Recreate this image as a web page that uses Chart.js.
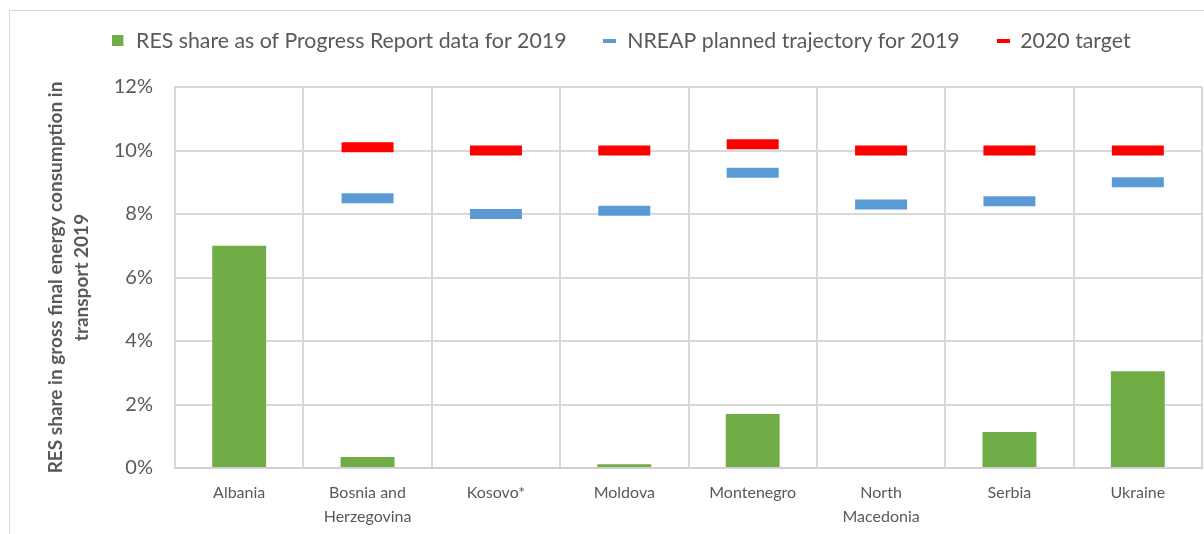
<!DOCTYPE html>
<html>
<head>
<meta charset="utf-8">
<script src="https://cdn.jsdelivr.net/npm/chart.js@4.4.1/dist/chart.umd.min.js"></script>
<style>
  html, body { margin: 0; padding: 0; background: #fff; overflow: hidden; }
  body { width: 1204px; height: 534px; position: relative; }
  .frame { position: absolute; left: 9px; top: 10px; width: 1210px; height: 540px; border: 1px solid #d9d9d9; }
  .wrap { position: absolute; left: 0; top: -7px; width: 1204px; height: 541px; }
</style>
</head>
<body>
<div class="frame"></div>
<div class="wrap"><canvas id="grafica" width="1204" height="541"></canvas></div>
<script>
// datos (en %)
const paises = ['Albania', ['Bosnia and', 'Herzegovina'], 'Kosovo*', 'Moldova', 'Montenegro', ['North', 'Macedonia'], 'Serbia', 'Ukraine'];
const progressReport2019 = [7.0, 0.35, 0, 0.12, 1.7, 0, 1.13, 3.05];
const nreap2019 = [null, 8.5, 8.0, 8.1, 9.3, 8.3, 8.4, 9.0];
const target2020 = [null, 10.1, 10.0, 10.0, 10.2, 10.0, 10.0, 10.0];
const ticksY = [0, 2, 4, 6, 8, 10, 12];

const verde = '#70AD47';
const azul = '#5B9BD5';
const rojo = '#FF0000';
const gris = '#595959';
const rejilla = '#d9d9d9';

Chart.defaults.font.family = 'Lato';
Chart.defaults.color = gris;

// cuadritos para la leyenda
const iconoLeyenda = (color, w, h, cw, ch) => {
  const c = document.createElement('canvas');
  c.width = cw; c.height = ch;
  const ctx = c.getContext('2d');
  ctx.fillStyle = color;
  ctx.fillRect(0, (ch - h) / 2, w, h);
  return c;
};
const iconos = [
  iconoLeyenda(verde, 11, 11, 13, 11),
  iconoLeyenda(azul, 13, 4, 13, 4),
  iconoLeyenda(rojo, 13, 4, 13, 4)
];

const alturaLeyenda = {
  id: 'alturaLeyenda',
  beforeInit(chart) {
    const fit = chart.legend.fit;
    chart.legend.fit = function () { fit.call(this); this.height = 94; };
  }
};

new Chart(document.getElementById('grafica').getContext('2d'), {
  type: 'bar',
  data: {
    labels: paises,
    datasets: [
      {
        label: 'RES share as of Progress Report data for 2019',
        data: progressReport2019,
        backgroundColor: verde,
        categoryPercentage: 1,
        barPercentage: 0.42,
        grouped: false
      },
      {
        type: 'line',
        label: 'NREAP planned trajectory for 2019',
        data: nreap2019,
        showLine: false,
        pointStyle: 'line',
        pointRadius: 26,
        pointHoverRadius: 26,
        pointBorderWidth: 10,
        pointHoverBorderWidth: 10,
        borderColor: azul,
        backgroundColor: azul
      },
      {
        type: 'line',
        label: '2020 target',
        data: target2020,
        showLine: false,
        pointStyle: 'line',
        pointRadius: 26,
        pointHoverRadius: 26,
        pointBorderWidth: 10,
        pointHoverBorderWidth: 10,
        borderColor: rojo,
        backgroundColor: rojo
      }
    ]
  },
  options: {
    responsive: false,
    animation: false,
    layout: { autoPadding: false, padding: { left: 41, right: 2, top: 0, bottom: 0 } },
    plugins: {
      tooltip: { enabled: false },
      legend: {
        position: 'top',
        labels: {
          usePointStyle: true,
          boxWidth: 13,
          padding: 37,
          color: gris,
          font: { size: 21.3 },
          generateLabels(chart) {
            const items = Chart.defaults.plugins.legend.labels.generateLabels(chart);
            items.forEach((it, i) => { it.pointStyle = iconos[i]; it.lineWidth = 0; });
            return items;
          }
        }
      }
    },
    scales: {
      x: {
        grid: { color: rejilla, lineWidth: 2, drawTicks: false, offset: true },
        border: { color: '#d0d0d0', width: 2 },
        ticks: { padding: 13, color: gris, font: { size: 16, lineHeight: 1.5 }, maxRotation: 0, autoSkip: false },
        afterFit(scale) {
          scale.height = 66;
          scale.paddingLeft = 0;
          scale.paddingRight = 0;
        }
      },
      y: {
        min: 0,
        max: 12,
        afterBuildTicks(scale) { scale.ticks = ticksY.map(v => ({ value: v })); },
        grid: { color: rejilla, lineWidth: 2, drawTicks: false },
        border: { color: rejilla, width: 2 },
        ticks: { padding: 22, color: gris, font: { size: 20 }, callback: v => v + '%' },
        title: {
          display: true,
          text: ['RES share in gross final energy consumption in', 'transport 2019'],
          color: gris,
          font: { size: 19, weight: 'bold', lineHeight: 26 / 19 },
          padding: { top: 2, bottom: 0 }
        },
        afterFit(scale) { scale.width = 134; }
      }
    }
  },
  plugins: [alturaLeyenda]
});
</script>
</body>
</html>
